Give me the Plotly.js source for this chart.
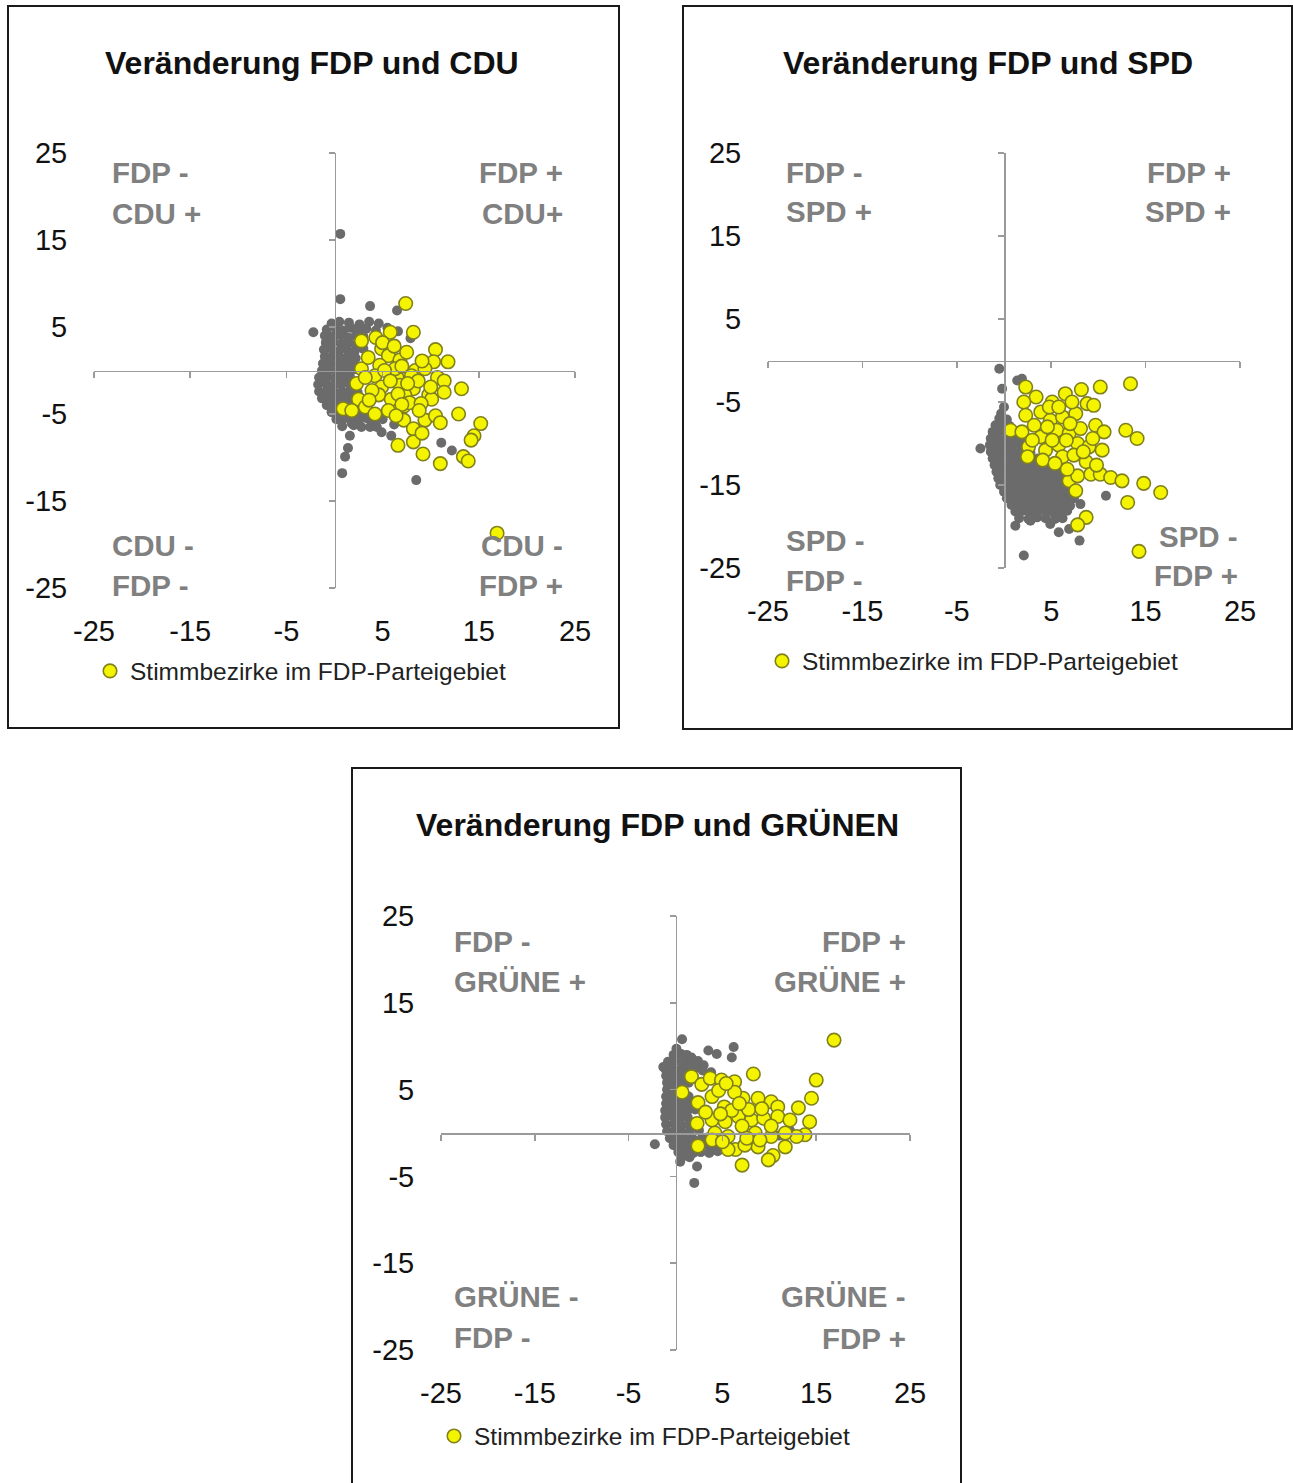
<!DOCTYPE html>
<html><head><meta charset="utf-8">
<script src="https://cdn.plot.ly/plotly-3.0.1.min.js"></script>
<style>html,body{margin:0;padding:0;background:#fff}#chart{width:1293px;height:1483px}</style>
</head><body><div id="chart"></div>
<script>
// ---------------- DATA ----------------
const tickVals = [-25, -15, -5, 5, 15, 25];
const tickText = ['-25', '-15', '-5', '5', '15', '25'];
const axisRange = [-25, 25];
const legendName = 'Stimmbezirke im FDP-Parteigebiet';
const titles = ['Veränderung FDP und CDU', 'Veränderung FDP und SPD', 'Veränderung FDP und GRÜNEN'];
// quadrant labels: [top-left, top-right, bottom-left, bottom-right], two lines each
const cduLabels = [['FDP -', 'CDU +'], ['FDP +', 'CDU+'], ['CDU -', 'FDP -'], ['CDU -', 'FDP +']];
const spdLabels = [['FDP -', 'SPD +'], ['FDP +', 'SPD +'], ['SPD -', 'FDP -'], ['SPD -', 'FDP +']];
const grueneLabels = [['FDP -', 'GRÜNE +'], ['FDP +', 'GRÜNE +'], ['GRÜNE -', 'FDP -'], ['GRÜNE -', 'FDP +']];

// [FDP change, other party change] — all Stimmbezirke (grey)
const cduGray = [[0.6,15.7],[0.6,8.2],[3.7,7.4],[6.5,6.9],[-2.2,4.4],[1.6,-7.5],[1.4,-8.9],[1.1,-9.9],[0.8,-11.8],[8.5,-12.6],[11.1,-8.3],[12.2,-9.2],[5.9,-7.5],[4.9,-7.1],[3.7,-6.5],[2.8,-6.5],[1.8,-6.1],
[-0.3,5.4],[0.5,5.6],[1.5,5.5],[2.6,5.3],[3.6,5.6],[4.6,5.4],
[-0.8,4.7],[0.1,4.9],[0.9,4.6],[1.7,4.9],[2.5,4.7],[3.3,4.8],[4.3,4.6],[5.5,4.9],[6.6,4.5],
[-1.0,4.0],[-0.2,3.9],[0.6,4.1],[1.4,3.8],[2.2,4.0],[3.0,3.9],[7.9,3.7],
[-0.9,3.2],[-0.1,3.3],[0.7,3.1],[1.5,3.2],[2.3,3.0],
[-1.1,2.4],[-0.3,2.5],[0.5,2.3],[1.3,2.4],[2.1,2.2],[3.0,2.5],
[-1.0,1.6],[-0.2,1.7],[0.6,1.5],[1.4,1.6],[2.2,1.4],
[-1.2,0.8],[-0.4,0.9],[0.4,0.7],[1.2,0.8],[2.0,0.9],
[-1.3,0.0],[-0.5,0.1],[0.3,-0.1],[1.1,0.0],[1.9,0.1],
[-1.6,-0.8],[-0.8,-0.7],[0.0,-0.9],[0.8,-0.8],[1.6,-0.7],
[-1.7,-1.6],[-0.9,-1.5],[-0.1,-1.7],[0.7,-1.6],[1.5,-1.5],
[-1.6,-2.4],[-0.8,-2.3],[0.0,-2.5],[0.8,-2.4],[1.6,-2.3],[2.4,-2.5],
[-1.3,-3.2],[-0.5,-3.1],[0.3,-3.3],[1.1,-3.2],[1.9,-3.1],
[-0.8,-4.0],[0.0,-3.9],[0.8,-4.1],[1.6,-4.0],[2.4,-3.9],
[-0.3,-4.8],[0.5,-4.7],[1.3,-4.9],[2.1,-4.8],[2.9,-4.7],[3.7,-4.9],
[0.2,-5.6],[1.0,-5.5],[1.8,-5.7],[2.6,-5.6],[3.4,-5.5],[4.2,-5.7],[5.0,-5.6],[6.2,-6.2],
[0.8,-6.4],[2.0,-6.3],[4.4,-6.5]];
// Stimmbezirke im FDP-Parteigebiet (yellow)
const cduYellow = [[7.4,7.7],[5.8,4.4],[8.2,4.4],[2.8,3.4],[4.3,3.8],[4.9,2.5],[5.6,1.7],[6.8,1.2],[7.5,2.1],[10.5,2.4],[11.8,1.0],[2.8,0.2],[4.7,0.6],[8.4,0.0],[10.3,1.0],[9.4,0.2],[2.3,-1.5],[4.2,-0.6],[6.5,-0.8],[8.0,-0.6],[10.7,-0.8],[11.4,-1.2],[13.2,-2.1],[4.9,-1.9],[6.8,-1.7],[8.2,-2.1],[2.5,-3.3],[4.6,-2.8],[5.9,-3.3],[7.3,-2.8],[9.8,-2.8],[11.4,-2.5],[0.9,-4.4],[3.2,-4.2],[4.2,-5.0],[5.6,-4.6],[7.2,-4.1],[7.8,-3.7],[10.1,-3.3],[7.2,-5.7],[8.2,-6.7],[9.4,-5.7],[10.5,-5.2],[11.0,-6.0],[12.9,-5.0],[15.2,-6.1],[14.5,-7.5],[14.2,-8.0],[6.6,-8.6],[8.2,-8.2],[9.2,-9.6],[11.0,-10.7],[13.4,-9.9],[13.9,-10.4],[9.1,-7.2],[16.9,-18.7],[3.5,1.5],[6.3,0.2],[3.9,-2.3],[6.6,-2.7],[8.7,-1.2],[9.1,1.1],[3.2,-0.8],[5.2,0.0],[7.0,-3.9],[1.8,-4.6],
[5.0,3.2],[6.2,2.8],[7.0,0.5],[5.8,-1.2],[7.6,-1.5],[9.0,-3.8],[8.8,-4.6],[6.4,-5.2],[10.0,-1.9],[3.6,-3.4]];

const spdGray = [[-0.5,-1.0],[-0.2,-3.4],[1.4,-2.4],[1.9,-2.2],[-2.5,-10.6],[10.8,-16.3],[8.0,-21.7],[2.1,-23.5],[1.2,-19.9],[2.8,-19.3],[4.9,-19.7],[5.8,-20.7],[6.9,-20.3],[8.1,-17.3],[0.0,-5.6],[-0.3,-6.4],
[-0.5,-7.0],[0.3,-7.1],
[-0.9,-7.8],[-0.1,-7.7],[0.6,-7.9],
[-1.2,-8.6],[-0.4,-8.5],[0.4,-8.7],
[-1.4,-9.4],[-0.6,-9.3],[0.2,-9.5],[1.0,-9.4],[1.8,-9.5],
[-1.5,-10.2],[-0.7,-10.1],[0.1,-10.3],[0.9,-10.2],[1.7,-10.1],[2.2,-10.3],
[-1.4,-11.0],[-0.6,-10.9],[0.2,-11.1],[1.0,-11.0],[1.8,-10.9],[2.8,-11.1],
[-1.2,-11.8],[-0.4,-11.7],[0.4,-11.9],[1.2,-11.8],[2.0,-11.7],[2.8,-11.9],[3.6,-11.8],
[-1.0,-12.6],[-0.2,-12.5],[0.6,-12.7],[1.4,-12.6],[2.2,-12.5],[3.0,-12.7],[3.8,-12.6],[4.6,-12.5],[5.4,-12.7],
[-0.8,-13.4],[0.0,-13.3],[0.8,-13.5],[1.6,-13.4],[2.4,-13.3],[3.2,-13.5],[4.0,-13.4],[4.8,-13.3],[5.6,-13.5],[6.2,-13.4],
[-0.6,-14.2],[0.2,-14.1],[1.0,-14.3],[1.8,-14.2],[2.6,-14.1],[3.4,-14.3],[4.2,-14.2],[5.0,-14.1],[5.8,-14.3],[6.6,-14.2],
[-0.4,-15.0],[0.4,-14.9],[1.2,-15.1],[2.0,-15.0],[2.8,-14.9],[3.6,-15.1],[4.4,-15.0],[5.2,-14.9],[6.0,-15.1],[6.8,-15.0],
[0.0,-15.8],[0.8,-15.7],[1.6,-15.9],[2.4,-15.8],[3.2,-15.7],[4.0,-15.9],[4.8,-15.8],[5.6,-15.7],[6.4,-15.9],[7.2,-15.8],
[0.3,-16.6],[1.1,-16.5],[1.9,-16.7],[2.7,-16.6],[3.5,-16.5],[4.3,-16.7],[5.1,-16.6],[5.9,-16.5],[6.7,-16.7],[7.4,-16.6],
[0.8,-17.4],[1.6,-17.3],[2.4,-17.5],[3.2,-17.4],[4.0,-17.3],[4.8,-17.5],[5.6,-17.4],[6.4,-17.3],[7.0,-17.5],
[1.2,-18.2],[2.0,-18.1],[2.8,-18.3],[3.6,-18.2],[4.4,-18.1],[5.2,-18.3],[6.0,-18.2],[6.7,-18.1],
[1.6,-19.0],[2.6,-19.1],[3.5,-18.9],[4.4,-19.0],[5.4,-19.1],[6.2,-19.0]];
const spdYellow = [[13.4,-2.8],[10.2,-3.2],[8.2,-3.5],[2.3,-3.2],[3.4,-4.4],[2.1,-5.0],[5.1,-5.0],[6.5,-4.0],[8.8,-5.2],[2.3,-6.6],[3.9,-6.2],[4.9,-7.2],[6.2,-6.8],[7.6,-6.4],[9.7,-7.8],[10.6,-8.6],[12.9,-8.4],[14.1,-9.4],[0.7,-8.4],[1.9,-8.6],[3.2,-7.8],[3.9,-9.2],[5.6,-8.4],[6.9,-8.8],[8.1,-8.2],[2.6,-10.4],[4.4,-10.8],[5.8,-10.2],[7.8,-10.0],[9.0,-10.4],[10.4,-10.8],[2.5,-11.6],[4.1,-12.0],[6.2,-11.6],[7.4,-11.4],[8.7,-12.2],[6.9,-14.5],[7.8,-13.9],[9.2,-13.7],[10.2,-13.7],[11.3,-14.1],[12.5,-14.5],[7.6,-15.7],[14.8,-14.8],[16.6,-15.9],[13.1,-17.1],[8.7,-18.9],[7.8,-19.8],[14.3,-23.0],[4.8,-5.6],[5.8,-5.6],[9.4,-9.4],[5.1,-9.6],[6.7,-13.1],[7.2,-5.0],[9.5,-5.4],
[4.6,-8.0],[6.6,-9.6],[8.4,-11.0],[3.0,-9.6],[7.0,-7.6],[9.8,-12.6],[5.4,-12.4]];

const grueneGray = [[0.7,10.8],[0.1,9.7],[3.5,9.5],[4.4,9.1],[6.2,9.9],[6.0,8.7],[-2.2,-1.3],[2.3,-3.85],[2.0,-5.75],[0.5,-3.3],[-1.3,7.6],[1.7,8.7],[2.4,8.3],[12.2,0.3],[11.0,-0.3],
[-0.2,9.0],[0.6,9.1],[1.2,9.0],
[-0.8,8.2],[0.0,8.3],[0.8,8.1],[1.6,8.2],[2.4,7.6],[3.0,7.8],
[-1.1,7.4],[-0.3,7.5],[0.5,7.3],[1.3,7.4],[2.1,7.5],[2.9,7.2],[3.8,7.0],
[-1.0,6.6],[-0.2,6.7],[0.6,6.5],[1.2,6.6],
[-0.9,5.8],[-0.1,5.9],[0.7,5.7],[1.4,5.8],
[-0.9,5.0],[-0.1,5.1],[0.5,4.9],
[-1.0,4.2],[-0.2,4.3],[0.6,4.1],[1.4,4.2],
[-1.0,3.4],[-0.2,3.5],[0.6,3.3],[1.4,3.4],
[-1.1,2.6],[-0.3,2.7],[0.5,2.5],[1.3,2.6],[2.1,2.7],
[-1.1,1.8],[-0.3,1.9],[0.5,1.7],[1.3,1.8],
[-1.0,1.0],[-0.2,1.1],[0.6,0.9],[1.4,1.0],
[-0.9,0.2],[-0.1,0.3],[0.7,0.1],[1.5,0.2],[2.5,0.3],
[-0.6,-0.6],[0.2,-0.5],[1.0,-0.7],[1.8,-0.6],[2.8,-0.6],[3.5,-0.5],
[-0.2,-1.4],[0.6,-1.3],[1.4,-1.5],[3.0,-1.4],[3.8,-1.6],[4.6,-1.5],
[0.3,-2.2],[1.1,-2.1],[1.9,-2.3],[2.7,-2.2],[3.6,-2.3],[4.5,-2.1],
[0.6,-2.9],[1.5,-2.8]];
const grueneYellow = [[16.9,10.7],[15.0,6.1],[14.5,4.0],[14.3,1.3],[8.3,6.8],[13.1,2.9],[13.8,-0.2],[12.9,-0.4],[11.7,-1.6],[10.4,-2.6],[9.9,-3.1],[7.1,-3.7],[6.4,-1.9],[8.8,-1.6],[2.4,-1.5],[0.7,4.7],[1.7,6.5],[2.8,5.6],[3.7,6.3],[4.9,6.1],[6.3,5.9],[2.4,3.5],[3.9,4.2],[5.2,3.0],[7.2,4.0],[8.8,4.0],[10.2,3.6],[10.9,3.0],[2.3,1.1],[3.9,1.5],[5.3,1.3],[6.7,1.9],[8.1,1.5],[9.4,1.7],[10.9,1.9],[4.2,0.0],[5.6,-0.4],[7.1,0.8],[8.5,0.0],[10.2,-0.4],[3.9,-0.8],[7.8,2.7],[9.2,2.8],[3.2,2.4],[4.6,4.9],[6.3,4.7],[5.4,5.7],[10.2,0.8],[11.7,0.0],[5.6,-1.9],[7.4,-1.4],
[6.0,2.6],[7.6,-0.6],[9.0,-0.8],[4.8,2.2],[6.8,3.4],[12.2,1.5],[5.0,-1.0]];

// ---------------- LAYOUT GEOMETRY (pixels) ----------------
const W = 1293, H = 1483;
const FONT = 'Liberation Sans, Arial, sans-serif';
const panels = [
  { gray: cduGray, yellow: cduYellow, labels: cduLabels, title: titles[0],
    plot: [94, 575, 153, 588], frame: [8, 619, 6, 728], titlePos: [312, 63],
    quad: { L: 110, R: 565, tl: [173, 213], tr: [173, 213], bl: [545, 585], br: [545, 585], R2: 565 },
    legend: [130, 671] },
  { gray: spdGray, yellow: spdYellow, labels: spdLabels, title: titles[1],
    plot: [768, 1240, 153, 568], frame: [683, 1292, 6, 729], titlePos: [988, 63],
    quad: { L: 784, R: 1233, tl: [173, 212], tr: [173, 212], bl: [540, 580], br: [536, 575], R2: 1240 },
    legend: [802, 661] },
  { gray: grueneGray, yellow: grueneYellow, labels: grueneLabels, title: titles[2],
    plot: [441, 910, 916, 1350], frame: [352, 961, 768, 1495], titlePos: [657, 825],
    quad: { L: 452, R: 908, tl: [941, 981], tr: [941, 981], bl: [1296, 1337], br: [1296, 1338], R2: 908 },
    legend: [474, 1436] }
];
const px = v => v / W;
const py = v => 1 - v / H;

const data = [];
const layout = {
  width: W, height: H, margin: { l: 0, r: 0, t: 0, b: 0 },
  paper_bgcolor: '#fff', plot_bgcolor: 'rgba(0,0,0,0)',
  font: { family: FONT, color: '#111' },
  showlegend: true, annotations: [], shapes: []
};
const AXC = '#9a9a9a';

panels.forEach((p, i) => {
  const n = i + 1, m = i + 4;
  const xs = n === 1 ? '' : n, ys = xs;
  const xd = [px(p.plot[0]), px(p.plot[1])];
  const yd = [py(p.plot[3]), py(p.plot[2])];
  const zeroX = xd[0] + (0 - axisRange[0]) / (axisRange[1] - axisRange[0]) * (xd[1] - xd[0]);
  const zeroY = yd[0] + (0 - axisRange[0]) / (axisRange[1] - axisRange[0]) * (yd[1] - yd[0]);
  // label axes
  layout['xaxis' + xs] = { domain: xd, range: axisRange, anchor: 'y' + ys, tickvals: tickVals, ticktext: tickText,
    showgrid: false, zeroline: false, showline: false, ticks: 'outside', ticklen: 17,
    tickcolor: 'rgba(0,0,0,0)', tickfont: { size: 29, family: FONT, color: '#111' }, fixedrange: true };
  layout['yaxis' + ys] = { domain: yd, range: axisRange, anchor: 'x' + xs, tickvals: tickVals, ticktext: tickText,
    showgrid: false, zeroline: false, showline: false, ticks: 'outside', ticklen: 20,
    tickcolor: 'rgba(0,0,0,0)', tickfont: { size: 29, family: FONT, color: '#111' }, fixedrange: true };
  // crossing axes through zero
  layout['xaxis' + m] = { overlaying: 'x' + xs, anchor: 'free', position: zeroY, range: axisRange,
    tickvals: tickVals, showticklabels: false, ticks: 'outside', ticklen: 6, tickwidth: 1.5, tickcolor: AXC,
    showline: true, linecolor: AXC, linewidth: 1.6, showgrid: false, zeroline: false, fixedrange: true };
  layout['yaxis' + m] = { overlaying: 'y' + ys, anchor: 'free', position: zeroX, range: axisRange, side: 'left',
    tickvals: tickVals, showticklabels: false, ticks: 'outside', ticklen: 6, tickwidth: 1.5, tickcolor: AXC,
    showline: true, linecolor: AXC, linewidth: 1.6, showgrid: false, zeroline: false, fixedrange: true };
  data.push({ x: [null], y: [null], xaxis: 'x' + m, yaxis: 'y' + ys, type: 'scatter', mode: 'markers', showlegend: false, hoverinfo: 'skip' });
  data.push({ x: [null], y: [null], xaxis: 'x' + xs, yaxis: 'y' + m, type: 'scatter', mode: 'markers', showlegend: false, hoverinfo: 'skip' });

  data.push({ type: 'scatter', mode: 'markers', xaxis: 'x' + xs, yaxis: 'y' + ys,
    x: p.gray.map(d => d[0]), y: p.gray.map(d => d[1]), showlegend: false, cliponaxis: false,
    marker: { size: 10, color: '#6b6b6b', line: { width: 0 } }, hoverinfo: 'x+y' });
  const lg = n === 1 ? 'legend' : 'legend' + n;
  data.push({ type: 'scatter', mode: 'markers', xaxis: 'x' + xs, yaxis: 'y' + ys, name: legendName, legend: lg,
    x: p.yellow.map(d => d[0]), y: p.yellow.map(d => d[1]), showlegend: true, cliponaxis: false,
    marker: { size: 13.5, color: '#f4f400', line: { width: 1.6, color: '#80801c' } }, hoverinfo: 'x+y' });
  layout[lg] = { x: px(p.legend[0] - 40), y: py(p.legend[1]), xanchor: 'left', yanchor: 'middle',
    bgcolor: 'rgba(0,0,0,0)', borderwidth: 0, font: { size: 24.5, family: FONT, color: '#222' },
    itemwidth: 30, tracegroupgap: 0 };

  // title
  layout.annotations.push({ xref: 'paper', yref: 'paper', x: px(p.titlePos[0]), y: py(p.titlePos[1]),
    xanchor: 'center', yanchor: 'middle', showarrow: false, text: '<b>' + p.title + '</b>',
    font: { size: 32, family: FONT, color: '#111' } });
  // quadrant labels
  const q = p.quad, gfont = { size: 29.5, family: FONT, color: '#808080' };
  const addQ = (txt, x, y, anchor) => layout.annotations.push({ xref: 'paper', yref: 'paper', x: px(x), y: py(y),
    xanchor: anchor, yanchor: 'middle', showarrow: false, text: '<b>' + txt + '</b>', font: gfont });
  addQ(p.labels[0][0], q.L, q.tl[0], 'left'); addQ(p.labels[0][1], q.L, q.tl[1], 'left');
  addQ(p.labels[1][0], q.R, q.tr[0], 'right'); addQ(p.labels[1][1], q.R, q.tr[1], 'right');
  addQ(p.labels[2][0], q.L, q.bl[0], 'left'); addQ(p.labels[2][1], q.L, q.bl[1], 'left');
  addQ(p.labels[3][0], q.R2, q.br[0], 'right'); addQ(p.labels[3][1], q.R2, q.br[1], 'right');
  // frame
  layout.shapes.push({ type: 'rect', xref: 'paper', yref: 'paper', x0: px(p.frame[0]), x1: px(p.frame[1]),
    y0: py(p.frame[3]), y1: py(p.frame[2]), line: { color: '#1a1a1a', width: 2 }, fillcolor: 'rgba(0,0,0,0)' });
});

Plotly.newPlot('chart', data, layout, { staticPlot: true, displayModeBar: false });
</script></body></html>
